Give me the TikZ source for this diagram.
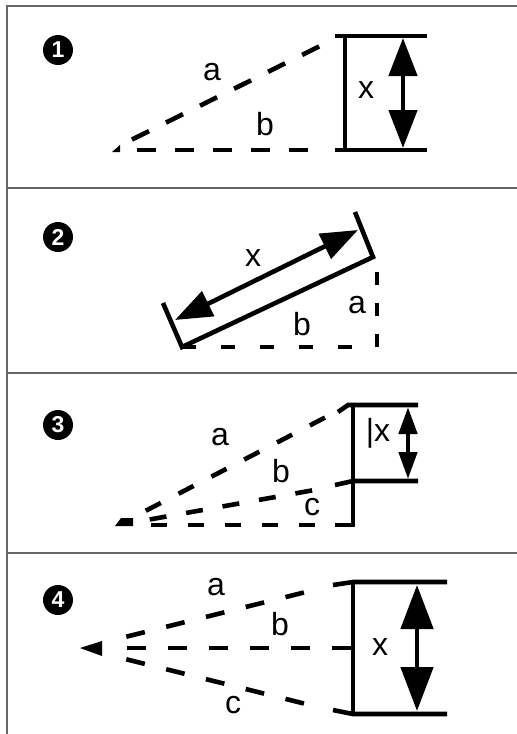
\documentclass[tikz,border=0pt]{standalone}
\usepackage{fontspec}
\setmainfont{Liberation Sans}
\usetikzlibrary{arrows.meta}
\tikzset{
  rule/.style={line width=1.6pt,black!60},
  bar/.style={line width=4.6pt},
  leg/.style={line width=4.6pt,dash pattern=on 19pt off 19pt},
  dim/.style 2 args={line width=4.6pt,{Triangle[length=#1,width=#2]}-{Triangle[length=#1,width=#2]}},
  num/.style={circle,fill=black,text=white,inner sep=0pt,minimum size=30pt,font=\bfseries\fontsize{23}{23}\selectfont},
  lbl/.style={inner sep=0pt,font=\fontsize{32}{32}\selectfont}
}
\begin{document}
\begin{tikzpicture}[x=1pt,y=-1pt]
\useasboundingbox (0,0) rectangle (517,734);
\draw[rule] (517,6) -- (7,6) -- (7,734);
\foreach \y in {188,373,553} \draw[rule] (7,\y) -- (517,\y);

\node[num] (n1) at (58,50) {1};
\fill (112,152) -- (120,145) -- (120,152) -- cycle;
\draw[leg,dash phase=19pt] (115,148) -- (320,46);
\draw[leg,dash phase=19pt] (118,150) -- (320,150);
\draw[bar] (335,36) -- (427,36);
\draw[bar] (335,150) -- (427,150);
\draw[bar] (345,36) -- (345,150);
\draw[dim={38pt}{28pt}] (403,38) -- (403,148);
\node[lbl] (a1) at (212,72) {a};
\node[lbl] (b1) at (265,124) {b};
\node[lbl] (x1) at (366,90) {x};

\node[num] (n2) at (58,237) {2};
\draw[bar] (163,303) -- (182,347) -- (373,257) -- (355,212);
\draw[dim={37pt}{27pt}] (175,320) -- (358,230);
\draw[bar,dash pattern=on 14pt off 25pt] (182,347) -- (377,347);
\draw[bar,dash pattern=on 13pt off 18pt] (377,347) -- (377,257);
\node[lbl] (x2) at (253,258) {x};
\node[lbl] (a2) at (357,305) {a};
\node[lbl] (b2) at (302,324) {b};

\node[num] (n3) at (58,425) {3};
\fill (115,526) -- (121,518) -- (133,518) -- (133,526) -- cycle;
\draw[leg,dash pattern=on 17pt off 20pt,dash phase=17pt] (128,520) -- (328,416);
\draw[leg,dash pattern=on 17pt off 20pt,dash phase=17pt] (130,523) -- (320,489);
\draw[leg,dash pattern=on 16pt off 21pt,dash phase=16pt] (130,525) -- (318,525);
\draw[bar] (338,412) -- (348,405) -- (418,405);
\draw[bar] (335,485) -- (353,481) -- (418,481);
\draw[bar] (335,525) -- (353,525) -- (353,405);
\draw[dim={27pt}{18pt}] (408,407) -- (408,479);
\node[lbl] (a3) at (220,437) {a};
\node[lbl] (b3) at (281,471) {b};
\node[lbl] (c3) at (312,507) {c};
\node[lbl] (x3) at (378,433) {|x};

\node[num] (n4) at (58,600) {4};
\fill (80,648) -- (102,641) -- (102,656) -- cycle;
\draw[leg,dash pattern=on 19pt off 22pt,dash phase=19pt] (105,642) -- (318,589);
\draw[leg,dash pattern=on 19pt off 22pt,dash phase=19pt] (105,648) -- (353,648);
\draw[leg,dash pattern=on 19pt off 22pt,dash phase=19pt] (105,654) -- (318,707);
\draw[bar] (333,585) -- (353,582) -- (447,582);
\draw[bar] (333,710) -- (353,714) -- (447,714);
\draw[bar] (353,582) -- (353,714);
\draw[dim={44pt}{32pt}] (417,585) -- (417,711);
\node[lbl] (a4) at (216,587) {a};
\node[lbl] (b4) at (280,624) {b};
\node[lbl] (c4) at (233,705) {c};
\node[lbl] (x4) at (380,647) {x};
\end{tikzpicture}
\end{document}
